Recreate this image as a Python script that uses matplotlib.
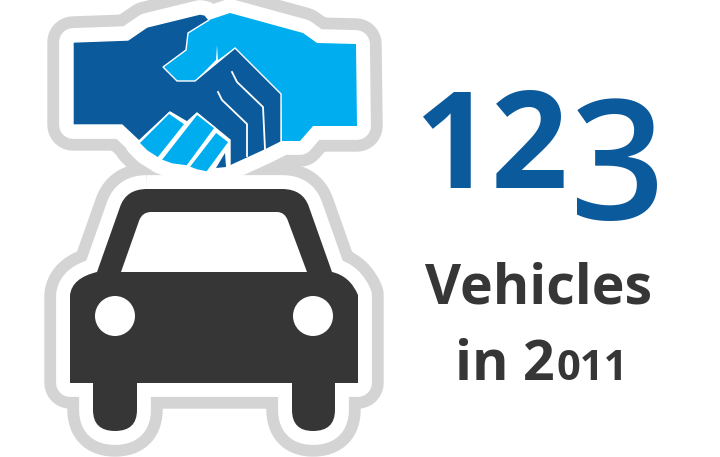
import matplotlib
matplotlib.use("Agg")
import matplotlib.pyplot as plt
from matplotlib.patches import Polygon, PathPatch, Circle
from matplotlib.path import Path

BLUE_DARK = "#0B5A9C"
BLUE_LIGHT = "#00AEEF"
CAR = "#363636"
RING = "#D4D4D4"

big_number = "123"
label_top = "Vehicles"
label_year = "2011"

# outlines, in pixels
dark_hand = [(73,42),(128,40),(147,27),(200,14),(205,15),(209,20),(188,33),(186,50),(163,67),
             (177,81),(195,81),(218,62),(235,48),(281,94),(281,142),(267,149),(265,150),(230,166),
             (230,140),(197,113),(187,122),(170,112),(139,141),(122,125),(73,125)]
light_hand = [(209,20),(230,13),(303,33),(317,43),(356,44),(357,126),(313,126),(300,141),(282,141),
              (281,94),(235,48),(218,60),(217,45),(216,60),(195,81),(177,81),(163,67),(185,50),(188,33)]
finger1 = [(139,143),(169,113),(185,124),(158,158),(147,151)]
finger2 = [(161,160),(197,114),(215,128),(187,166),(172,164)]
finger3 = [(189,167),(216,132),(229,142),(207,172),(197,170)]
thumb_tip = [(216,168),(225,153),(226,167)]
finger_line1 = [(232,72),(237,82),(263,107),(265,149)]
finger_line2 = [(218,92),(222,100),(247,124),(247,156)]

car_verts = [(147,189),(282,189),(303,189),(309,207),(332,272),(350,276),(358,295),(358,383),(335,383),
             (335,410),(335,431),(313,431),(292,431),(292,410),(292,383),(137,383),(137,410),(137,431),
             (115,431),(93,431),(93,410),(93,383),(70,383),(70,295),(72,278),(97,272),(120,207),(126,189),(147,189)]
car_codes = [Path.MOVETO,Path.LINETO,Path.CURVE3,Path.CURVE3,Path.LINETO,Path.CURVE3,Path.CURVE3,Path.LINETO,
             Path.LINETO,Path.LINETO,Path.CURVE3,Path.CURVE3,Path.CURVE3,Path.CURVE3,Path.LINETO,Path.LINETO,
             Path.LINETO,Path.CURVE3,Path.CURVE3,Path.CURVE3,Path.CURVE3,Path.LINETO,Path.LINETO,Path.LINETO,
             Path.CURVE3,Path.CURVE3,Path.LINETO,Path.CURVE3,Path.CURVE3]
window_verts = [(121,272),(307,272),(288,221),(285,212),(277,212),(151,212),(142,212),(139,221),(121,272)]
window_codes = [Path.MOVETO,Path.LINETO,Path.LINETO,Path.CURVE3,Path.CURVE3,Path.LINETO,Path.CURVE3,Path.CURVE3,Path.CLOSEPOLY]
lights = [(115,316),(313,316)]

fig = plt.figure(figsize=(7.2,4.57),dpi=100)
ax = fig.add_axes([0,0,1,1])
ax.set_xlim(0,720)
ax.set_ylim(457,0)
ax.axis("off")

# grey ring first, then white ring over it
hand_parts = [dark_hand,light_hand,finger1,finger2,finger3]
car_path = Path(car_verts,car_codes)
for color,lw in [(RING,37),("white",20)]:
    for part in hand_parts:
        ax.add_patch(Polygon(part,closed=True,fc=color,ec=color,lw=lw,joinstyle="round"))
    ax.add_patch(PathPatch(car_path,fc=color,ec=color,lw=lw,joinstyle="round"))

ax.add_patch(PathPatch(car_path,fc=CAR,ec="none"))
ax.add_patch(PathPatch(Path(window_verts,window_codes),fc="white",ec="none"))
for p in lights:
    ax.add_patch(Circle(p,20,fc="white",ec="none"))

ax.add_patch(Polygon(light_hand,closed=True,fc=BLUE_LIGHT,ec="none"))
ax.add_patch(Polygon(dark_hand,closed=True,fc=BLUE_DARK,ec="white",lw=1))
for f in [finger1,finger2,finger3]:
    ax.add_patch(Polygon(f,closed=True,fc=BLUE_LIGHT,ec="white",lw=1))
ax.add_patch(Polygon(thumb_tip,closed=True,fc=BLUE_DARK,ec="none"))
for line in [finger_line1,finger_line2]:
    ax.plot([p[0] for p in line],[p[1] for p in line],color="white",lw=1.3)

# old style figures, so the digits are placed one group at a time
ax.text(414,188,big_number[:2],fontfamily="Open Sans",fontweight="bold",fontsize=97,color=BLUE_DARK,va="baseline",ha="left")
ax.text(570,219,big_number[2],fontfamily="Open Sans",fontweight="semibold",fontsize=120,color=BLUE_DARK,va="baseline",ha="left")
ax.text(539,303,label_top,fontfamily="Open Sans",fontweight="bold",fontsize=40,color=CAR,va="baseline",ha="center")
ax.text(455,380,"in "+label_year[0],fontfamily="Open Sans",fontweight="bold",fontsize=40,color=CAR,va="baseline",ha="left")
ax.text(557,380,label_year[1:],fontfamily="Open Sans",fontweight="bold",fontsize=30,color=CAR,va="baseline",ha="left")

fig.savefig("out.png",dpi=100,facecolor="white")
